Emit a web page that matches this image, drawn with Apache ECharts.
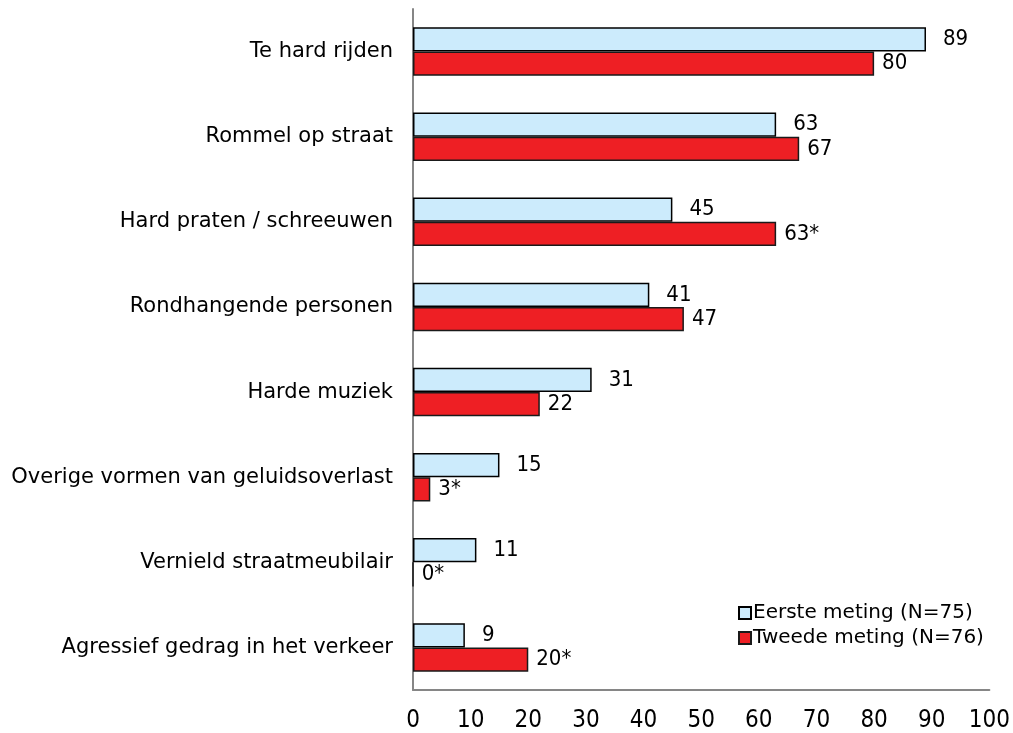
<!DOCTYPE html>
<html lang="nl">
<head>
    <meta charset="UTF-8">
    <title>Overlast</title>
    <script src="https://cdn.jsdelivr.net/npm/echarts@6/dist/echarts.min.js"></script>
</head>
<body style="margin:0">
    <div id="main" style="width:1013px; height:733px;"></div>
    <script type="text/javascript">
        var categories = ['Te hard rijden', 'Rommel op straat', 'Hard praten / schreeuwen',
            'Rondhangende personen', 'Harde muziek', 'Overige vormen van geluidsoverlast',
            'Vernield straatmeubilair', 'Agressief gedrag in het verkeer'];
        var eerste = [89, 63, 45, 41, 31, 15, 11, 9];
        var tweede = [80, 67, 63, 47, 22, 3, 0, 20];
        // significant difference marked with *
        var tweedeSig = [false, false, true, false, false, true, true, true];
        var xTicks = [0, 10, 20, 30, 40, 50, 60, 70, 80, 90, 100];

        var font = 'DejaVu Sans';
        var narrow = '"Liberation Sans Narrow", "DejaVu Sans Condensed", sans-serif';
        var myChart = echarts.init(document.getElementById('main'));

        myChart.setOption({
            backgroundColor: '#fff',
            animation: false,
            textStyle: { fontFamily: font },
            legend: {
                orient: 'vertical',
                left: 733,
                top: 598,
                itemWidth: 12,
                itemHeight: 12,
                itemGap: 5,
                icon: 'rect',
                textStyle: { fontSize: 20, lineHeight: 20, color: '#000', fontFamily: font, padding: [0, 0, 0, -3] },
                data: ['Eerste meting (N=75)', 'Tweede meting (N=76)']
            },
            grid: { left: 413, right: 22, top: 9, bottom: 41, containLabel: false },
            xAxis: {
                type: 'value',
                min: 0,
                max: 100,
                interval: 10,
                axisLine: { show: true, lineStyle: { color: '#868686', width: 2 } },
                axisTick: { show: false },
                splitLine: { show: false },
                axisLabel: {
                    color: '#000', fontSize: 24, fontFamily: narrow, margin: 19,
                    formatter: function (v) { return xTicks.indexOf(v) >= 0 ? String(v) : ''; }
                }
            },
            yAxis: {
                type: 'category',
                inverse: true,
                data: categories,
                axisLine: { show: true, lineStyle: { color: '#868686', width: 2 } },
                axisTick: { show: false },
                axisLabel: { color: '#000', fontSize: 21, fontFamily: font, margin: 20 }
            },
            series: [
                {
                    name: 'Eerste meting (N=75)',
                    type: 'bar',
                    data: eerste,
                    barGap: '0%',
                    barCategoryGap: '43%',
                    itemStyle: { color: '#CCEBFC', borderColor: '#000', borderWidth: 1.5 },
                    label: { show: true, position: 'right', distance: 17, color: '#000', fontSize: 22, fontFamily: narrow }
                },
                {
                    name: 'Tweede meting (N=76)',
                    type: 'bar',
                    data: tweede,
                    itemStyle: { color: '#EE1F24', borderColor: '#1a1a1a', borderWidth: 1.5 },
                    label: {
                        show: true, position: 'right', distance: 8, color: '#000', fontSize: 22, fontFamily: narrow,
                        formatter: function (p) { return p.value + (tweedeSig[p.dataIndex] ? '*' : ''); }
                    }
                }
            ]
        });
    </script>
</body>
</html>
